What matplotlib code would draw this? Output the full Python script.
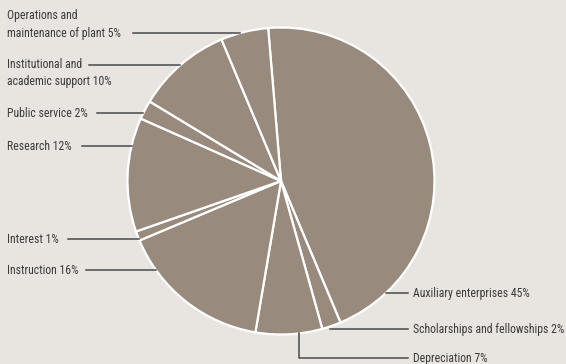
import numpy as np
import matplotlib
matplotlib.use("Agg")
import matplotlib.pyplot as plt

# spending shares, clockwise from the top
labels = ["Auxiliary enterprises", "Scholarships and fellowships", "Depreciation",
          "Instruction", "Interest", "Research", "Public service",
          "Institutional and\nacademic support", "Operations and\nmaintenance of plant"]
shares = [45, 2, 7, 16, 1, 12, 2, 10, 5]

plt.rcParams['font.family'] = ['Roboto Condensed', 'Liberation Sans', 'DejaVu Sans']

W, H = 566, 364
bg = "#e8e4e0"
fill = "#988a7d"
ink = "#3a3a3a"
line_c = "#4a4a4a"

fig = plt.figure(figsize=(W / 100, H / 100), dpi=100)
fig.patch.set_facecolor(bg)
ax = fig.add_axes([0, 0, 1, 1])

cx, cy, r = 281, 181, 153.5
# y axis is flipped below, so counterclock=True runs clockwise on screen
ax.pie(shares, center=(cx, cy), radius=r, startangle=-94.8, counterclock=True,
       colors=[fill] * len(shares),
       wedgeprops=dict(edgecolor="white", linewidth=1.6), frame=True)
ax.set_xlim(0, W)
ax.set_ylim(H, 0)
ax.set_aspect("equal")
ax.axis("off")


def edge_x(y, side):
    return cx + side * np.sqrt(r ** 2 - (y - cy) ** 2)


fs = 8.5
# left-hand labels: leader y, where the leader starts, baseline of the last text line
left = {
    "Operations and\nmaintenance of plant": (33, 133, 37),
    "Institutional and\nacademic support": (65, 89, 85),
    "Public service": (113, 97, 117),
    "Research": (146, 82, 150),
    "Interest": (239, 68, 243),
    "Instruction": (270, 86, 274),
}
for lab, s in zip(labels, shares):
    if lab not in left:
        continue
    y, x0, base = left[lab]
    ax.text(7, base, f"{lab} {s}%", ha="left", va="baseline",
            fontsize=fs, color=ink, linespacing=1.45)
    ax.plot([x0, edge_x(y, -1)], [y, y], color=line_c, lw=1.1)

# right-hand labels
ax.plot([edge_x(293, 1), 408], [293, 293], color=line_c, lw=1.1)
ax.text(413, 297, f"{labels[0]} {shares[0]}%", fontsize=fs, color=ink, va="baseline")
ax.plot([330, 408], [329, 329], color=line_c, lw=1.1)
ax.text(413, 333, f"{labels[1]} {shares[1]}%", fontsize=fs, color=ink, va="baseline")
ax.plot([299, 299, 408], [cy + np.sqrt(r ** 2 - (299 - cx) ** 2), 358, 358],
        color=line_c, lw=1.1)
ax.text(413, 362, f"{labels[2]} {shares[2]}%", fontsize=fs, color=ink, va="baseline")

fig.savefig("out.png", dpi=100, facecolor=bg)
